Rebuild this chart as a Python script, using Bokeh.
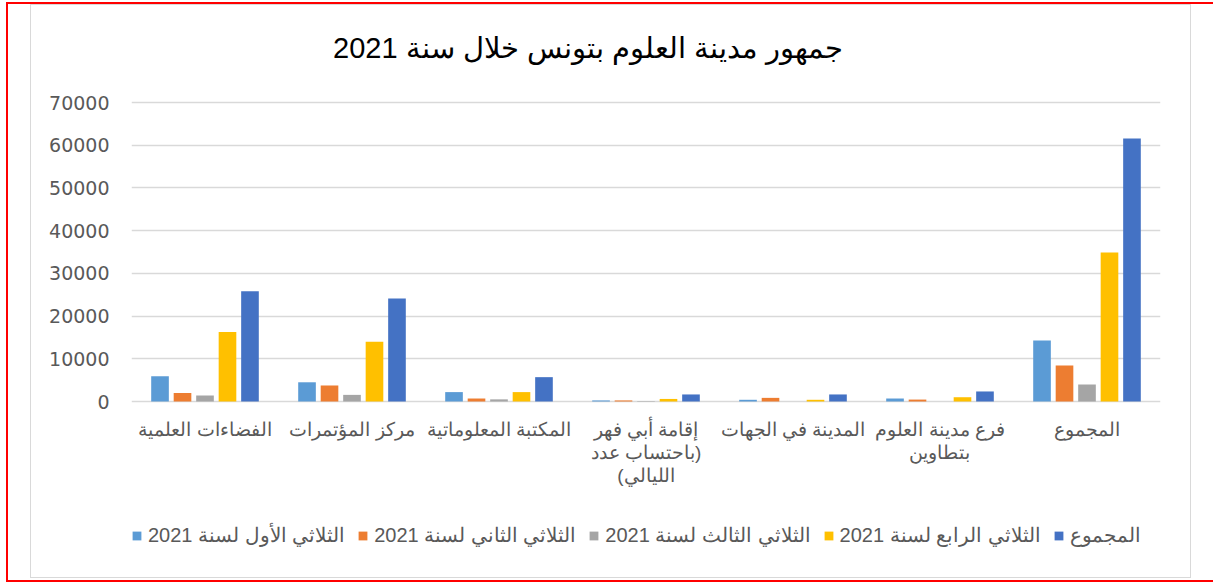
from bokeh.plotting import figure
from bokeh.models import FactorRange, FixedTicker, Legend, LegendItem, InlineStyleSheet, ColumnDataSource, Label
from bokeh.core.properties import value
from bokeh.transform import dodge
from bokeh.embed import file_html
from bokeh.resources import INLINE

title_text = "جمهور مدينة العلوم بتونس خلال سنة 2021"
categories = [
    "الفضاءات العلمية",
    "مركز المؤتمرات",
    "المكتبة المعلوماتية",
    "إقامة أبي فهر\n\u200f(باحتساب عدد\nالليالي)\u200f",
    "المدينة في الجهات",
    "فرع مدينة العلوم\nبتطاوين",
    "المجموع",
]
series_names = [
    "الثلاثي الأول لسنة 2021",
    "الثلاثي الثاني لسنة 2021",
    "الثلاثي الثالث لسنة 2021",
    "الثلاثي الرابع لسنة 2021",
    "المجموع",
]
q1 = [5900, 4500, 2200, 250, 400, 700, 14300]
q2 = [2000, 3750, 700, 250, 850, 450, 8400]
q3 = [1400, 1550, 500, 100, 0, 0, 4000]
q4 = [16300, 14000, 2200, 600, 400, 1000, 34900]
total = [25800, 24100, 5700, 1650, 1650, 2350, 61600]
y_ticks = [0, 10000, 20000, 30000, 40000, 50000, 60000, 70000]

colors = ["#5B9BD5", "#ED7D31", "#A5A5A5", "#FFC000", "#4472C4"]
offsets = [-0.306, -0.153, 0.0, 0.153, 0.306]

src = ColumnDataSource(dict(cat=categories, q1=q1, q2=q2, q3=q3, q4=q4, total=total))

css = InlineStyleSheet(css="""
:host { position: relative; }
:host::before { content: ""; position: absolute; left: 6px; top: 2px; width: 1207px; height: 580px;
  border: 2px solid red; border-right: none; box-sizing: border-box; pointer-events: none; z-index: 10; }
:host::after { content: ""; position: absolute; left: 30px; top: 4px; width: 1161px; height: 574px;
  border: 1.5px solid #d9d9d9; box-sizing: border-box; pointer-events: none; z-index: 9; }
""")

W, H = 1213, 583
# frame spans y=5..580 px; value 0 sits at 401 px and 70000 at 102 px
Y_MIN = -41906
Y_MAX = 92709
LABEL_Y = -4000
TITLE_Y = 82876
TITLE_X = 3.105

p = figure(width=W, height=H, x_range=FactorRange(*categories), y_range=(Y_MIN, Y_MAX),
           output_backend="svg", toolbar_location=None,
           min_border_left=131, min_border_right=53, min_border_top=5, min_border_bottom=3,
           stylesheets=[css])
p.background_fill_color = "white"
p.border_fill_color = "white"
p.outline_line_color = None
p.title.text = ""
p.title.text_font_size = "1px"
p.title.standoff = 0

renderers = []
for key, off, col in zip(["q1", "q2", "q3", "q4", "total"], offsets, colors):
    r = p.vbar(x=dodge("cat", off, range=p.x_range), top=key, width=0.12, source=src,
               fill_color=col, line_color=None)
    renderers.append(r)

# category labels under the zero line, on the categorical scale
p.text(x="cat", y=LABEL_Y, text="cat", source=src, text_align="center", text_baseline="top",
       text_font=value("Liberation Sans"), text_font_size="19px", text_color="#595959",
       text_line_height=1.1)

p.add_layout(Label(x=TITLE_X, y=TITLE_Y, text=title_text, text_align="center", text_baseline="middle",
                   text_font="Liberation Sans", text_font_size="29px", text_color="black"))

p.xaxis.visible = False
p.xgrid.grid_line_color = None
p.ygrid.grid_line_color = "#d9d9d9"
p.ygrid.grid_line_width = 1.5
p.ygrid.ticker = FixedTicker(ticks=y_ticks)
p.yaxis.ticker = FixedTicker(ticks=y_ticks)
p.yaxis.axis_line_color = None
p.yaxis.major_tick_line_color = None
p.yaxis.minor_tick_line_color = None
p.yaxis.major_tick_out = 0
p.yaxis.major_tick_in = 0
p.yaxis.major_label_text_color = "#595959"
p.yaxis.major_label_text_font = "DejaVu Sans"
p.yaxis.major_label_text_font_size = "19px"
p.yaxis.major_label_standoff = 22

legend = Legend(items=[LegendItem(label=n, renderers=[r]) for n, r in zip(series_names, renderers)],
                orientation="horizontal", location=(0, 33))
legend.label_text_font = "Liberation Sans"
legend.label_text_font_size = "20px"
legend.label_text_color = "#595959"
legend.glyph_width = 11
legend.glyph_height = 11
legend.label_standoff = 6
legend.spacing = 12
legend.padding = 0
legend.margin = 0
legend.border_line_color = None
legend.background_fill_alpha = 0
p.add_layout(legend, "center")

open("out.html", "w").write(file_html(p, INLINE))
